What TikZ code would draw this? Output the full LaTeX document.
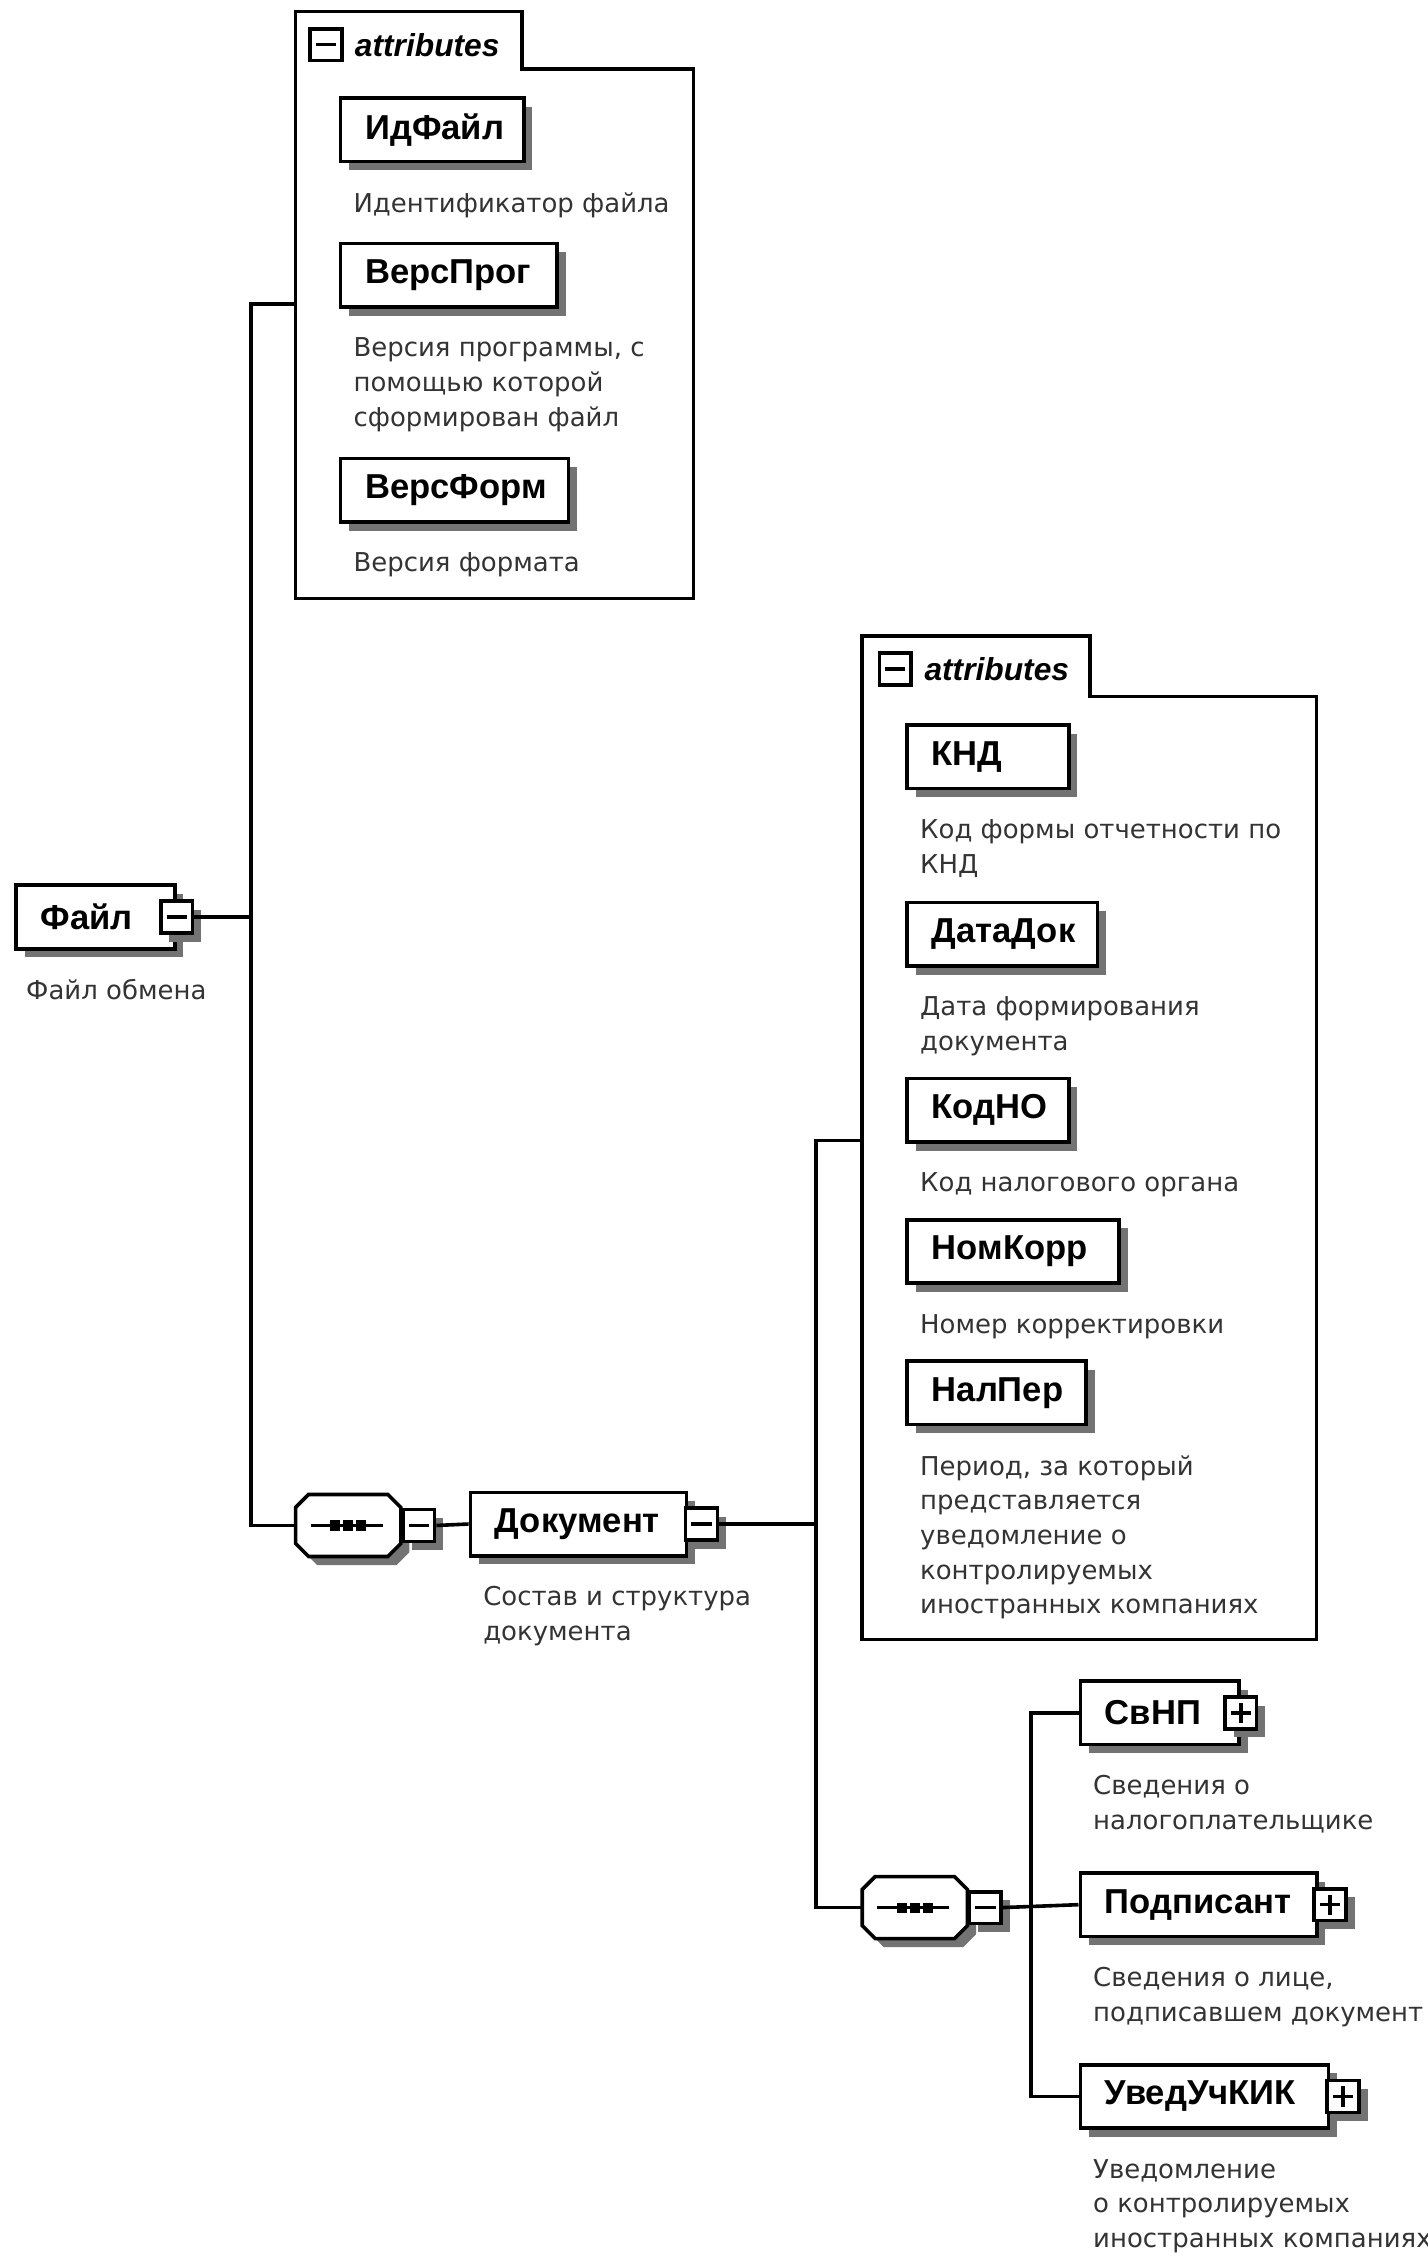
\documentclass[tikz,border=0pt]{standalone}
\usepackage{fontspec}
\setmainfont{Liberation Sans}
\newfontfamily\descfont{DejaVu Sans}
\usetikzlibrary{positioning, shadows}
\tikzset{boxshadow/.style={drop shadow={shadow xshift=6pt, shadow yshift=-6pt, fill=black!55, opacity=1}}}
\tikzset{element/.style={draw, line width=2.5pt, fill=white, minimum height=44pt, inner xsep=17pt, inner ysep=0pt, align=left, anchor=west, font=\fontsize{24}{28}\selectfont\bfseries, boxshadow}}
\tikzset{desc/.style={inner sep=0pt, align=left, text=black!80, font=\descfont\fontsize{18}{24}\selectfont}}
\tikzset{conn/.style={line width=2.5pt}}
\tikzset{frame/.style={line width=2.5pt}}
\tikzset{expbox/.style={draw, line width=2.5pt, fill=white, minimum size=22pt, inner sep=0pt}}
\tikzset{minusbox/.style={expbox, path picture={\draw[line width=2.5pt] ([xshift=4pt]path picture bounding box.west) -- ([xshift=-4pt]path picture bounding box.east);}}}
\tikzset{plusbox/.style={expbox, path picture={\draw[line width=2.5pt] ([xshift=4pt]path picture bounding box.west) -- ([xshift=-4pt]path picture bounding box.east); \draw[line width=2.5pt] ([yshift=4pt]path picture bounding box.south) -- ([yshift=-4pt]path picture bounding box.north);}}}
\tikzset{seqbox/.style={minimum width=73pt, minimum height=43pt, inner sep=0pt}}
\tikzset{attrtitle/.style={anchor=west, inner sep=0pt, font=\fontsize{22}{26}\selectfont\bfseries\itshape}}

\begin{document}
\begin{tikzpicture}[x=1pt, y=-1pt]
    \useasboundingbox (0,0) rectangle (990,1573);
    \draw[frame] (205,8) -- (362,8) -- (362,48) -- (481,48) -- (481,415) -- (205,415) -- cycle;
    \node[minusbox] (attr1icon) at (226,31) {};
    \node[attrtitle] (attr1title) at (246,31) {attributes};
    \coordinate (attr1) at (205,211);
    \draw[frame] (598,441) -- (756,441) -- (756,483) -- (913,483) -- (913,1137) -- (598,1137) -- cycle;
    \node[minusbox] (attr2icon) at (621,464) {};
    \node[attrtitle] (attr2title) at (641,464) {attributes};
    \coordinate (attr2) at (598,791);

    \node[element, text width=76pt] (fajl) at (10,636) {Файл};
    \node[minusbox, boxshadow] (fajlx) at (fajl.east) {};
    \node[desc, below right=20pt and 8pt of fajl.south west] (fajld) {Файл обмена};

    \node[element, text width=93pt] (idfajl) at (235,90) {ИдФайл};
    \node[desc, below right=20pt and 10pt of idfajl.south west] (idfajld) {Идентификатор файла};
    \node[element, text width=116pt] (versprog) at (235,191) {ВерсПрог};
    \node[desc, below right=20pt and 10pt of versprog.south west] (versprogd) {Версия программы, с\\помощью которой\\сформирован файл};
    \node[element, text width=124pt] (versform) at (235,340) {ВерсФорм};
    \node[desc, below right=20pt and 10pt of versform.south west] (versformd) {Версия формата};

    \node[seqbox] (seq1) at (241.5,1058) {};
    \node[seqbox] (seq2) at (634.5,1323) {};
    \foreach \s in {seq1, seq2} {
        \fill[black!55] ([shift={(6,6)}]\s.center) +(-27.5,-21.5) -- +(27.5,-21.5) -- +(36.5,-12.5) -- +(36.5,12.5) -- +(27.5,21.5) -- +(-27.5,21.5) -- +(-36.5,12.5) -- +(-36.5,-12.5) -- cycle;
        \draw[frame, fill=white] (\s.center) +(-27.5,-21.5) -- +(27.5,-21.5) -- +(36.5,-12.5) -- +(36.5,12.5) -- +(27.5,21.5) -- +(-27.5,21.5) -- +(-36.5,12.5) -- +(-36.5,-12.5) -- cycle;
        \draw[line width=2.5pt] ([xshift=-26pt]\s.center) -- ([xshift=24pt]\s.center);
        \foreach \dx in {-9, 0, 9} {
            \fill ([xshift=\dx pt]\s.center) +(-3.5,-3.5) rectangle +(3.5,3.5);
        }
    }
    \node[minusbox, boxshadow, anchor=west] (seq1x) at (seq1.east) {};
    \node[minusbox, boxshadow, anchor=west] (seq2x) at (seq2.east) {};

    \node[element, text width=116pt] (doc) at (325,1057) {Документ};
    \node[minusbox, boxshadow] (docx) at ([xshift=9pt]doc.east) {};
    \node[desc, below right=20pt and 10pt of doc.south west] (docd) {Состав и структура\\документа};

    \node[element, text width=78pt] (knd) at (628,525) {КНД};
    \node[desc, below right=20pt and 10pt of knd.south west] (kndd) {Код формы отчетности по\\КНД};
    \node[element, text width=98pt] (datadok) at (628,648) {ДатаДок};
    \node[desc, below right=20pt and 10pt of datadok.south west] (datadokd) {Дата формирования\\документа};
    \node[element, text width=78pt] (kodno) at (628,770) {КодНО};
    \node[desc, below right=20pt and 10pt of kodno.south west] (kodnod) {Код налогового органа};
    \node[element, text width=113pt] (nomkorr) at (628,868) {НомКорр};
    \node[desc, below right=20pt and 10pt of nomkorr.south west] (nomkorrd) {Номер корректировки};
    \node[element, text width=90pt] (nalper) at (628,966) {НалПер};
    \node[desc, below right=20pt and 10pt of nalper.south west] (nalperd) {Период, за который\\представляется\\уведомление о\\контролируемых\\иностранных компаниях};

    \node[element, text width=76pt] (svnp) at (748,1188) {СвНП};
    \node[plusbox, boxshadow] (svnpx) at (svnp.east) {};
    \node[desc, below right=20pt and 10pt of svnp.south west] (svnpd) {Сведения о\\налогоплательщике};
    \node[element, text width=130pt] (podp) at (748,1321) {Подписант};
    \node[plusbox, boxshadow] (podpx) at ([xshift=8pt]podp.east) {};
    \node[desc, below right=20pt and 10pt of podp.south west] (podpd) {Сведения о лице,\\подписавшем документ};
    \node[element, text width=138pt] (uved) at (748,1454) {УведУчКИК};
    \node[plusbox, boxshadow] (uvedx) at ([xshift=9pt]uved.east) {};
    \node[desc, below right=20pt and 10pt of uved.south west] (uvedd) {Уведомление\\о контролируемых\\иностранных компаниях};

    \coordinate (fork1) at (174,636);
    \coordinate (fork2) at (566,1057);
    \coordinate (fork3) at (715,1323);
    \draw[conn] (fajlx.east) -- (fork1);
    \draw[conn] (attr1) -| (fork1) |- (seq1.west);
    \draw[conn] (seq1x.east) -- (doc.west);
    \draw[conn] (docx.east) -- (fork2);
    \draw[conn] (attr2) -| (fork2) |- (seq2.west);
    \draw[conn] (seq2x.east) -- (podp.west);
    \draw[conn] (svnp.west) -| (fork3) |- (uved.west);
\end{tikzpicture}
\end{document}
